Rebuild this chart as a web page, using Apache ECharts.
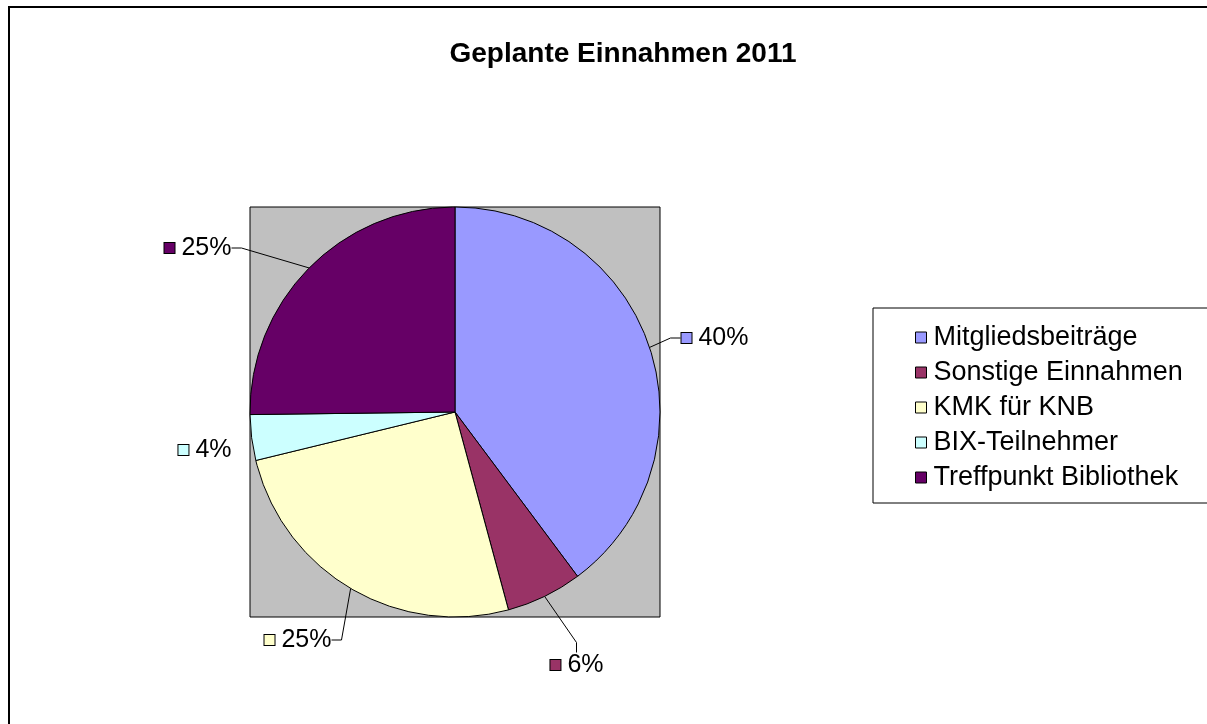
<!DOCTYPE html>
<html>
<head>
<meta charset="utf-8">
<script src="https://cdn.jsdelivr.net/npm/echarts@6/dist/echarts.min.js"></script>
<style>
    html, body { margin: 0; padding: 0; background: #fff; }
    #chart { width: 1207px; height: 724px; }
</style>
</head>
<body>
<div id="chart"></div>
<script>
// chart data
const categories = ['Mitgliedsbeiträge', 'Sonstige Einnahmen', 'KMK für KNB', 'BIX-Teilnehmer', 'Treffpunkt Bibliothek'];
const shares = [39.8, 6.0, 25.4, 3.6, 25.2];
const colors = ['#9999ff', '#993366', '#ffffcc', '#ccffff', '#660066'];

// where Excel put each data label (centre of label box)
const labelSpots = [[715, 338], [577, 665], [298, 640], [205, 450], [198, 248]];

const chart = echarts.init(document.getElementById('chart'));
const font = '"Liberation Sans", Arial, sans-serif';

const pieData = categories.map((name, i) => ({
    name: name,
    value: shares[i],
    itemStyle: { color: colors[i] },
    labelLine: { show: i !== 3 },
    label: {
        rich: {
            sq: { width: 10, height: 10, backgroundColor: colors[i], borderColor: '#000', borderWidth: 1 }
        }
    }
}));

const option = {
    backgroundColor: '#fff',
    animation: false,
    title: {
        text: 'Geplante Einnahmen 2011',
        left: 618,
        textAlign: 'center',
        top: 35,
        textStyle: { fontFamily: font, fontSize: 28, fontWeight: 'bold', color: '#000' }
    },
    legend: {
        orient: 'vertical',
        left: 873,
        top: 308,
        padding: [16, 60, 12, 42],
        itemGap: 8,
        itemWidth: 11,
        itemHeight: 11,
        icon: 'rect',
        backgroundColor: '#fff',
        borderColor: '#000',
        borderWidth: 1,
        itemStyle: { borderColor: '#000', borderWidth: 1 },
        textStyle: { fontFamily: font, fontSize: 27, color: '#000', padding: [0, 0, 0, 2] },
        data: categories
    },
    graphic: [
        {
            type: 'rect',
            shape: { x: 9, y: 7, width: 1240, height: 760 },
            style: { fill: 'none', stroke: '#000', lineWidth: 2 },
            z: 100
        },
        {
            type: 'rect',
            shape: { x: 250, y: 207, width: 410, height: 410 },
            style: { fill: '#c0c0c0', stroke: '#000', lineWidth: 1 },
            z: -1
        }
    ],
    series: [{
        type: 'pie',
        center: [455, 412],
        radius: 205,
        startAngle: 90,
        clockwise: true,
        data: pieData,
        itemStyle: { borderColor: '#000', borderWidth: 1 },
        label: {
            show: true,
            position: 'outside',
            fontFamily: font,
            fontSize: 25,
            color: '#000',
            formatter: p => '{sq|} ' + Math.round(p.percent) + '%'
        },
        labelLine: {
            show: true,
            length: 14,
            length2: 10,
            lineStyle: { color: '#000', width: 1 }
        },
        labelLayout: p => ({
            x: labelSpots[p.dataIndex][0],
            y: labelSpots[p.dataIndex][1],
            align: 'center',
            verticalAlign: 'middle'
        }),
        emphasis: { disabled: true }
    }]
};
chart.setOption(option);
</script>
</body>
</html>
